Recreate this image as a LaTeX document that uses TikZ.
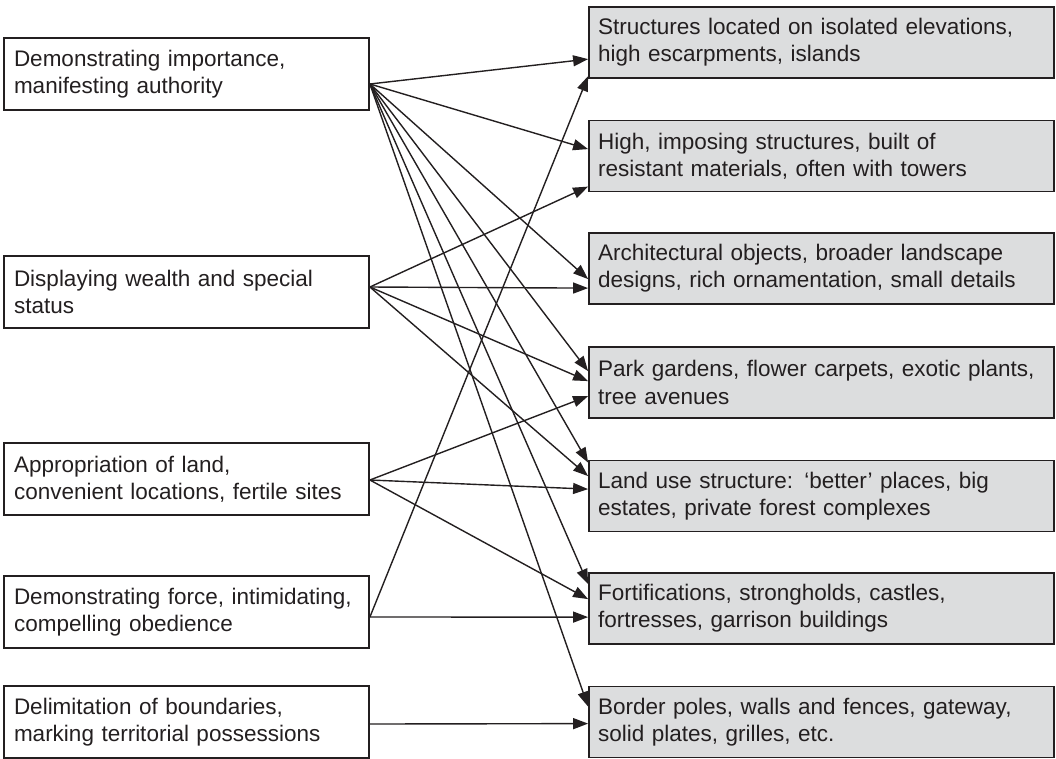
\documentclass[tikz,border=0pt]{standalone}
\usepackage{fontspec}
\setmainfont{Liberation Sans}
\usetikzlibrary{arrows.meta,calc}
\definecolor{boxgray}{RGB}{220,221,222}
\definecolor{ink}{RGB}{35,31,32}
\begin{document}
\begin{tikzpicture}[x=1pt,y=-1pt,
  every node/.style={font=\fontsize{22.5}{27.3}\selectfont, text=ink},
  leftbox/.style={draw=ink, line width=1.8pt, rectangle, minimum width=365pt, minimum height=72pt,
     inner xsep=10pt, text width=345pt, align=left},
  rightbox/.style={draw=ink, line width=1.8pt, rectangle, fill=boxgray, minimum width=465pt, minimum height=71pt,
     inner xsep=9pt, text width=447pt, align=left},
  conn/.style={draw=ink, line width=1.4pt, -{Triangle[length=15pt,width=11pt]}}]
\useasboundingbox (0,0) rectangle (1056,758);

% left column
\node[leftbox] (L1) at (186.5,74) {Demonstrating importance,\\manifesting authority};
\node[leftbox] (L2) at (186.5,292) {Displaying wealth and special\\status};
\node[leftbox] (L3) at (186.5,479) {Appropriation of land,\\convenient locations, fertile sites};
\node[leftbox] (L4) at (186.5,612) {Demonstrating force, intimidating,\\compelling obedience};
\node[leftbox] (L5) at (186.5,722) {Delimitation of boundaries,\\marking territorial possessions};

% right column
\node[rightbox] (R1) at (821.5,42.5) {Structures located on isolated elevations,\\high escarpments, islands};
\node[rightbox] (R2) at (821.5,156) {High, imposing structures, built of\\resistant materials, often with towers};
\node[rightbox] (R3) at (821.5,268.5) {Architectural objects, broader landscape\\designs, rich ornamentation, small details};
\node[rightbox] (R4) at (821.5,382.5) {Park gardens, flower carpets, exotic plants,\\tree avenues};
\node[rightbox] (R5) at (821.5,496) {Land use structure: ‘better’ places, big\\estates, private forest complexes};
\node[rightbox] (R6) at (821.5,608.5) {Fortifications, strongholds, castles,\\fortresses, garrison buildings};
\node[rightbox] (R7) at (821.5,722) {Border poles, walls and fences, gateway,\\solid plates, grilles, etc.};

% sources
\coordinate (s1) at ($(L1.east)+(0,10)$);
\coordinate (s2) at ($(L2.east)+(0,-5)$);
\coordinate (s3) at ($(L3.east)+(0,1)$);
\coordinate (s4) at ($(L4.east)+(0,5)$);
\coordinate (s5) at ($(L5.east)+(0,2)$);

% from L1
\draw[conn] (s1) -- ($(R1.north west)+(0,53)$);
\draw[conn] (s1) -- ($(R2.north west)+(0,29.5)$);
\draw[conn] (s1) -- ($(R3.north west)+(0,47)$);
\draw[conn] (s1) -- ($(R4.north west)+(0,25)$);
\draw[conn] (s1) -- ($(R5.north west)+(0,3)$);
\draw[conn] (s1) -- ($(R6.north west)+(0,12)$);
\draw[conn] (s1) -- ($(R7.north west)+(0,21)$);
% from L2
\draw[conn] (s2) -- ($(R2.north west)+(0,67)$);
\draw[conn] (s2) -- ($(R3.north west)+(0,56)$);
\draw[conn] (s2) -- ($(R4.north west)+(0,35)$);
\draw[conn] (s2) -- ($(R5.north west)+(0,16.5)$);
% from L3
\draw[conn] (s3) -- ($(R4.north west)+(0,50)$);
\draw[conn] (s3) -- ($(R5.north west)+(0,29.5)$);
\draw[conn] (s3) -- ($(R6.north west)+(0,27)$);
% from L4
\draw[conn] (s4) -- ($(R1.north west)+(0,70)$);
\draw[conn] (s4) -- ($(R6.north west)+(0,45)$);
% from L5
\draw[conn] (s5) -- ($(R7.north west)+(0,38)$);
\end{tikzpicture}
\end{document}
